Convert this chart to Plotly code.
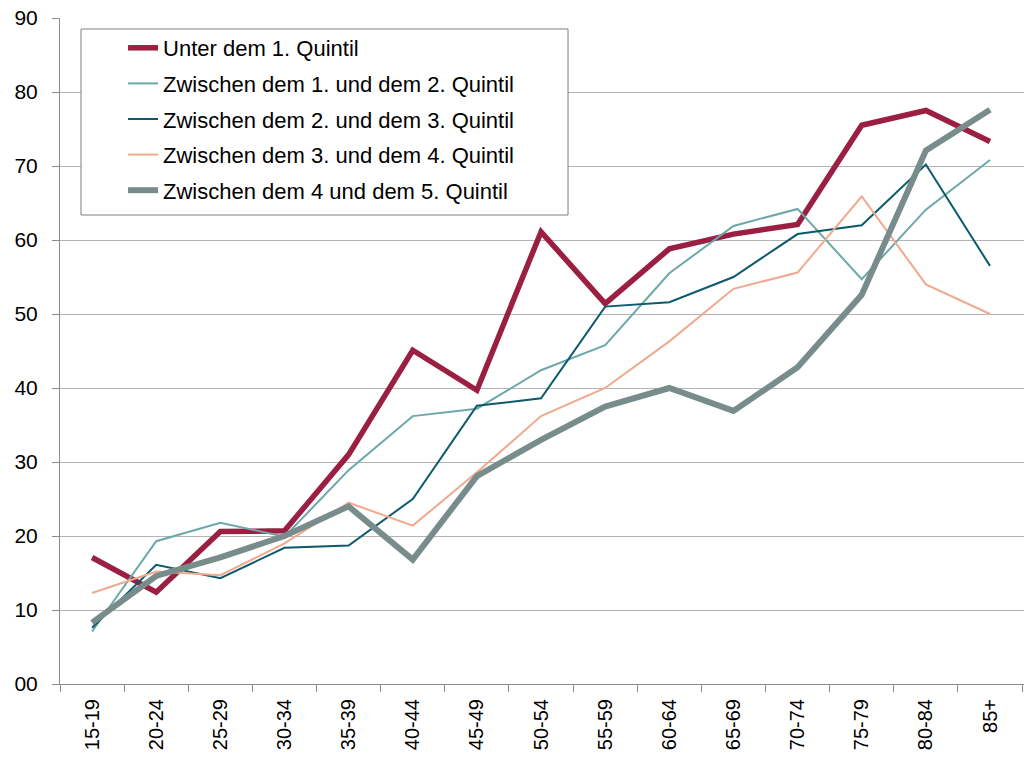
import plotly.graph_objects as go

categories = ["15-19", "20-24", "25-29", "30-34", "35-39", "40-44", "45-49", "50-54",
              "55-59", "60-64", "65-69", "70-74", "75-79", "80-84", "85+"]

series_names = [
    "Unter dem 1. Quintil",
    "Zwischen dem 1. und dem 2. Quintil",
    "Zwischen dem 2. und dem 3. Quintil",
    "Zwischen dem 3. und dem 4. Quintil",
    "Zwischen dem 4 und dem 5. Quintil",
]

q1 = [17.1, 12.4, 20.6, 20.7, 31.0, 45.1, 39.7, 61.1, 51.4, 58.8, 60.8, 62.1, 75.5, 77.5, 73.3]
q12 = [7.1, 19.3, 21.8, 19.9, 28.9, 36.2, 37.2, 42.4, 45.8, 55.5, 61.9, 64.2, 54.7, 64.1, 70.8]
q23 = [7.6, 16.1, 14.3, 18.4, 18.7, 25.0, 37.6, 38.6, 51.0, 51.6, 55.0, 60.8, 62.0, 70.2, 56.5]
q34 = [12.3, 15.2, 14.7, 19.0, 24.5, 21.4, 28.6, 36.2, 40.0, 46.3, 53.4, 55.6, 65.9, 54.0, 50.0]
q45 = [8.3, 14.6, 17.1, 20.0, 24.0, 16.8, 28.1, 33.0, 37.5, 40.0, 36.9, 42.8, 52.6, 72.1, 77.6]

y_ticks = [0, 10, 20, 30, 40, 50, 60, 70, 80, 90]
y_tick_labels = ["00", "10", "20", "30", "40", "50", "60", "70", "80", "90"]

values = [q1, q12, q23, q34, q45]
colors = ["#9B1F42", "#6DA8A8", "#0C5A6C", "#F0A98C", "#788C8C"]
widths = [5.5, 2, 2, 2, 6]

fig = go.Figure()
for i, (name, vals, c, w) in enumerate(zip(series_names, values, colors, widths)):
    fig.add_trace(go.Scatter(
        x=categories, y=vals, name=name, mode="lines",
        line=dict(color=c, width=w),
        legendgroup=f"g{i}",
        cliponaxis=False,
    ))

# legend frame
fig.add_shape(type="rect", xref="paper", yref="paper",
              x0=0.0218, x1=0.527, y0=0.7042, y1=0.9835,
              line=dict(color="#7F7F7F", width=1), fillcolor="white", layer="above")

fig.update_layout(
    width=1024, height=757,
    margin=dict(l=60, r=0, t=18, b=73),
    paper_bgcolor="white", plot_bgcolor="white",
    font=dict(family="Liberation Sans, Arial, sans-serif", color="black"),
    showlegend=True,
    legend=dict(
        x=0.0654, y=0.9865, xanchor="left", yanchor="top",
        bgcolor="rgba(0,0,0,0)", borderwidth=0,
        font=dict(size=22, color="black"),
        tracegroupgap=4,
        itemwidth=30,
    ),
    xaxis=dict(
        type="category", range=[-0.5, 14.53], automargin=False,
        showline=True, linecolor="#8C8C8C", linewidth=1,
        ticks="outside", tickson="boundaries", ticklen=7, tickcolor="#8C8C8C",
        tickangle=-90, tickfont=dict(size=20), ticklabelstandoff=6,
        ticklabeloverflow="allow",
        showgrid=False, zeroline=False,
    ),
    yaxis=dict(
        range=[0, 90], tickvals=y_ticks, ticktext=y_tick_labels, automargin=False,
        showline=True, linecolor="#8C8C8C", linewidth=1,
        ticks="outside", ticklen=7, tickcolor="#8C8C8C",
        tickfont=dict(size=21), ticklabelstandoff=10,
        ticklabeloverflow="allow",
        showgrid=True, gridcolor="#B4B4B4", gridwidth=1,
        zeroline=False,
    ),
)

fig.write_html("out.html", config={"displayModeBar": False},
               post_script="document.body.style.margin='0';")
